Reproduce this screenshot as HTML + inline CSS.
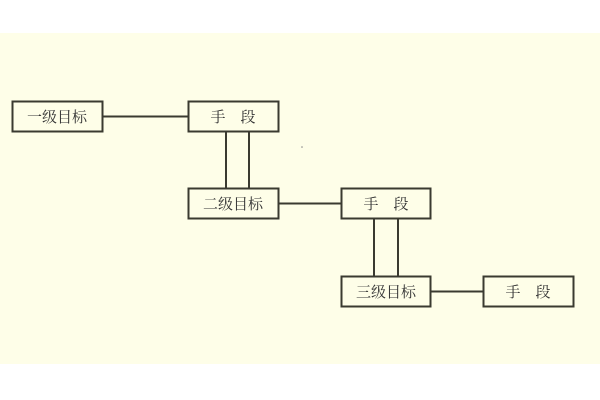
<!DOCTYPE html>
<html><head><meta charset="utf-8"><style>
html,body{margin:0;padding:0;background:#fff;width:600px;height:400px;overflow:hidden}
text{font-family:"Liberation Serif","Noto Serif CJK SC",serif;font-size:15px;fill:#333}
</style></head><body>
<svg width="600" height="400" xmlns="http://www.w3.org/2000/svg">
<rect x="0" y="33" width="600" height="331" fill="#fefee8"/>
<g stroke="#3a3a30" stroke-width="2" fill="none">
<rect x="12.5" y="101.5" width="90" height="30"/>
<rect x="188.5" y="101.5" width="90" height="30"/>
<rect x="188.5" y="188.5" width="90" height="30"/>
<rect x="341.5" y="188.5" width="89" height="30"/>
<rect x="341.5" y="276.5" width="89" height="30"/>
<rect x="483.5" y="276.5" width="90" height="30"/>
<line x1="103" y1="116.5" x2="188" y2="116.5"/>
<line x1="226" y1="132" x2="226" y2="188"/>
<line x1="249" y1="132" x2="249" y2="188"/>
<line x1="279" y1="203.5" x2="341" y2="203.5"/>
<line x1="374" y1="219" x2="374" y2="276"/>
<line x1="398" y1="219" x2="398" y2="276"/>
<line x1="431" y1="291.5" x2="483" y2="291.5"/>
</g>
<g text-anchor="middle">
<text x="57" y="122">一级目标</text>
<text x="233" y="122">手　段</text>
<text x="233" y="209">二级目标</text>
<text x="386" y="209">手　段</text>
<text x="386" y="297">三级目标</text>
<text x="528" y="297">手　段</text>
</g>
<circle cx="302" cy="147" r="0.8" fill="#888"/>
</svg>
</body></html>
